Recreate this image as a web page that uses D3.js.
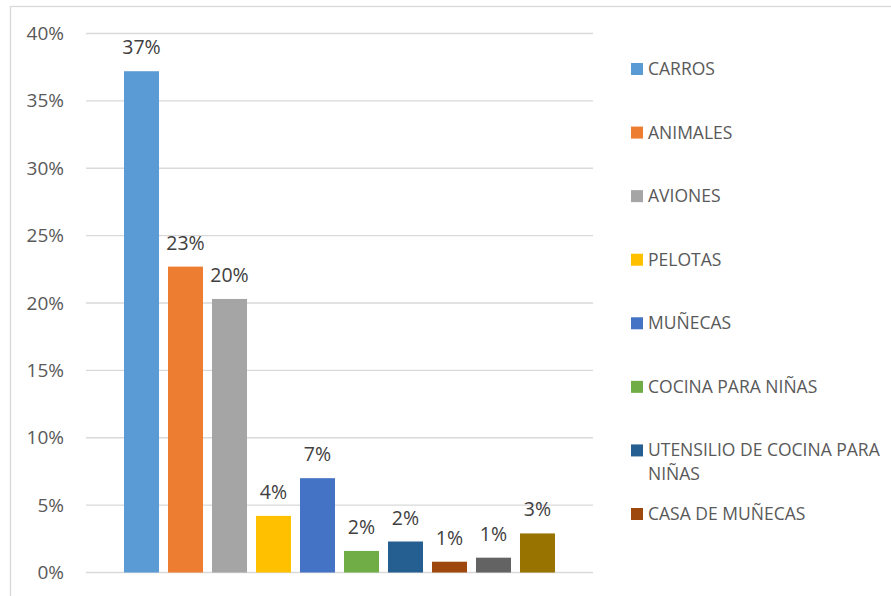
<!DOCTYPE html>
<html>
<head>
<meta charset="utf-8">
<script src="https://cdn.jsdelivr.net/npm/d3@7"></script>
<style>
  body { margin: 0; background: #fff; }
  svg { display: block; font-family: "Open Sans", sans-serif; }
</style>
</head>
<body>
<div class="chart"></div>
<script>
// DATA ------------------------------
// one category, ten series (Excel style); only the first 8 fit in the legend
const series = ["CARROS", "ANIMALES", "AVIONES", "PELOTAS", "MUÑECAS",
                "COCINA PARA NIÑAS", "UTENSILIO DE COCINA PARA NIÑAS",
                "CASA DE MUÑECAS", "SERIE 9", "SERIE 10"];
const values = [37.2, 22.7, 20.3, 4.2, 7.0, 1.6, 2.3, 0.8, 1.1, 2.9];
const colors = ["#5B9BD5", "#ED7D31", "#A5A5A5", "#FFC000", "#4472C4",
                "#70AD47", "#255E91", "#9E480E", "#636363", "#997300"];
const yTicks = [0, 5, 10, 15, 20, 25, 30, 35, 40];
const legendShown = 8;

// CHART INIT ------------------------------
const W = 891, H = 596;
const plot = {left: 86, right: 593, top: 33.5, bottom: 572.5};

const svg = d3.select(".chart")
    .append("svg")
    .attr("width", W)
    .attr("height", H);

// chart frame (cut off at right and bottom)
svg.append("rect")
    .attr("x", 10.5).attr("y", 6.5)
    .attr("width", W + 20).attr("height", H + 20)
    .attr("fill", "none")
    .attr("stroke", "#D9D9D9")
    .attr("stroke-width", 1.3);

const yScale = d3.scaleLinear()
    .domain([0, 40])
    .range([plot.bottom, plot.top]);

const xScale = d3.scaleBand()
    .domain(series)
    .range([plot.left, plot.right])
    .paddingInner(9 / 44)
    .paddingOuter(0.864);

// gridlines
svg.append("g")
    .selectAll("line")
    .data(yTicks)
    .join("line")
    .attr("x1", plot.left).attr("x2", plot.right)
    .attr("y1", d => yScale(d)).attr("y2", d => yScale(d))
    .attr("stroke", "#D9D9D9")
    .attr("stroke-width", 1.3);

// y axis labels
const yAxis = d3.axisLeft(yScale)
    .tickValues(yTicks)
    .tickFormat(d => d + "%")
    .tickSize(0)
    .tickPadding(0);

svg.append("g")
    .attr("class", "y-axis")
    .attr("transform", `translate(${plot.left - 22}, 0)`)
    .call(yAxis)
    .call(g => g.select(".domain").remove())
    .selectAll("text")
    .attr("fill", "#595959")
    .attr("font-size", "19px")
    .attr("font-family", "Open Sans, sans-serif");

// bars
const idx = d3.range(series.length);
svg.append("g")
    .selectAll("rect")
    .data(idx)
    .join("rect")
    .attr("x", i => xScale(series[i]))
    .attr("width", xScale.bandwidth())
    .attr("y", i => yScale(values[i]))
    .attr("height", i => plot.bottom - yScale(values[i]))
    .attr("fill", i => colors[i]);

// data labels
svg.append("g")
    .selectAll("text")
    .data(idx)
    .join("text")
    .attr("x", i => xScale(series[i]) + xScale.bandwidth() / 2)
    .attr("y", i => yScale(values[i]) - 17)
    .attr("text-anchor", "middle")
    .attr("fill", "#404040")
    .attr("font-size", "19.5px")
    .text(i => Math.round(values[i]) + "%");

// legend
const legY = d3.scaleLinear().domain([0, 7]).range([69, 514]);
const leg = svg.append("g")
    .selectAll("g")
    .data(idx.slice(0, legendShown))
    .join("g")
    .attr("transform", i => `translate(631, ${legY(i)})`);

leg.append("rect")
    .attr("x", 0).attr("y", -6)
    .attr("width", 12).attr("height", 12)
    .attr("fill", i => colors[i]);

leg.append("text")
    .attr("x", 17)
    .attr("y", 6)
    .attr("fill", "#595959")
    .attr("font-size", "17.5px")
    .each(function(i) {
        // wrap long names like Excel does
        const name = series[i];
        const t = d3.select(this);
        if (name.length > 24) {
            const cut = name.lastIndexOf(" ");
            t.append("tspan").attr("x", 17).attr("dy", 0).text(name.slice(0, cut));
            t.append("tspan").attr("x", 17).attr("dy", 24).text(name.slice(cut + 1));
        } else {
            t.text(name);
        }
    });
</script>
</body>
</html>
